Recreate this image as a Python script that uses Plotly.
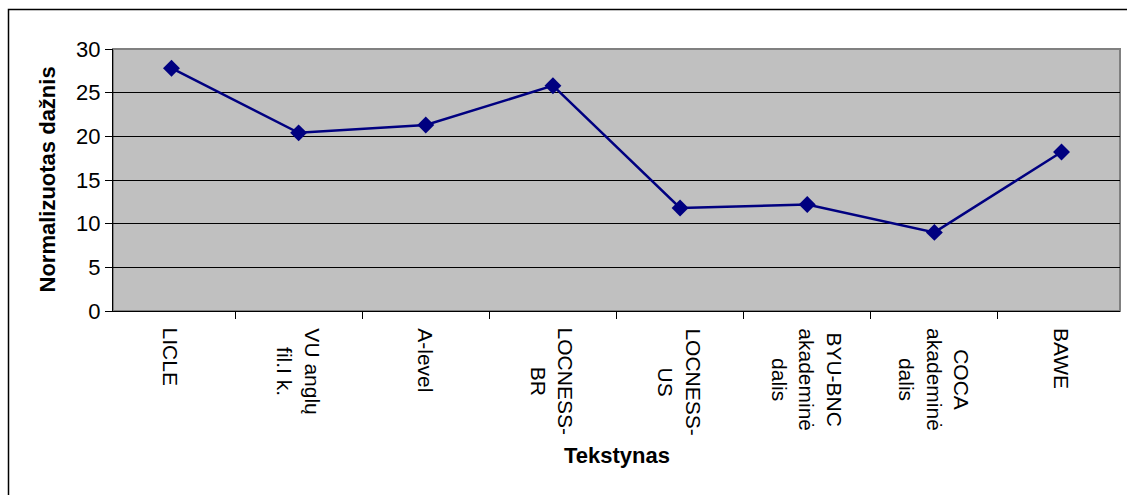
import plotly.graph_objects as go

categories = ["LICLE", "VU anglų<br>fil.I k.", "A-level", "LOCNESS-<br>BR", "LOCNESS-<br>US",
              "BYU-BNC<br>akademinė<br>dalis", "COCA<br>akademinė<br>dalis", "BAWE"]
values = [27.8, 20.4, 21.3, 25.8, 11.8, 12.2, 9.0, 18.2]
y_ticks = [0, 5, 10, 15, 20, 25, 30]

W, H = 1127, 495
L, R, T, B = 113, 7, 49, 184
pw, ph = W - L - R, H - T - B

def px_x(p):
    return (p - L) / pw

def px_y(p):
    return (H - B - p) / ph

fig = go.Figure()
fig.add_trace(go.Scatter(
    x=categories, y=values, mode="lines+markers",
    line=dict(color="#000080", width=2.5),
    marker=dict(symbol="diamond", size=13, color="#000080"),
    cliponaxis=False,
))

font = "Liberation Sans, Arial, sans-serif"
annotations = []
for c in categories:
    annotations.append(dict(
        x=c, xref="x", y=px_y(326), yref="paper",
        text=c, textangle=90, showarrow=False,
        xanchor="center", yanchor="top", align="center",
        font=dict(size=21, family=font, color="black"),
    ))
annotations.append(dict(
    x=0.5, xref="paper", y=px_y(455), yref="paper",
    text="<b>Tekstynas</b>", showarrow=False,
    xanchor="center", yanchor="middle",
    font=dict(size=22, family=font, color="black"),
))
annotations.append(dict(
    x=px_x(46.5), xref="paper", y=0.5, yref="paper",
    text="<b>Normalizuotas dažnis</b>", showarrow=False, textangle=-90,
    xanchor="center", yanchor="middle",
    font=dict(size=22, family=font, color="black"),
))

fig.update_layout(
    width=W, height=H,
    margin=dict(l=L, r=R, t=T, b=B),
    paper_bgcolor="white",
    plot_bgcolor="#C0C0C0",
    showlegend=False,
    font=dict(family=font, color="black", size=20),
    xaxis=dict(
        type="category",
        ticks="outside", ticklen=7, tickcolor="black", tickson="boundaries",
        showticklabels=False,
        showline=True, linecolor="black", linewidth=1,
        showgrid=False, zeroline=False,
        automargin=False,
    ),
    yaxis=dict(
        range=[0, 30], tickvals=y_ticks,
        ticks="outside", ticklen=7, tickcolor="black",
        showline=True, linecolor="black", linewidth=1,
        showgrid=True, gridcolor="black", gridwidth=1,
        zeroline=False,
        tickfont=dict(size=22),
        automargin=False,
    ),
    annotations=annotations,
    shapes=[
        dict(type="rect", xref="paper", yref="paper", x0=0, x1=1, y0=0, y1=1,
             line=dict(color="#808080", width=2), layer="below"),
        dict(type="rect", xref="paper", yref="paper",
             x0=px_x(8.5), x1=px_x(1160), y0=px_y(530), y1=px_y(9.5),
             line=dict(color="black", width=1.5)),
    ],
)

fig.write_html("out.html", post_script="document.body.style.margin='0';",
               config={"displayModeBar": False})
